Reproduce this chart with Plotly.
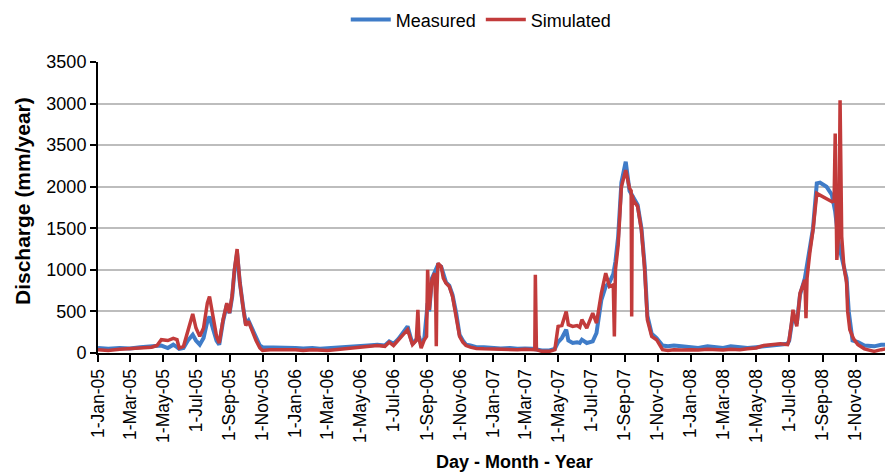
import plotly.graph_objects as go

# Daily discharge, measured vs simulated (mm/year), 2005-2008
meas_dates = [
    "2005-01-01", "2005-01-20", "2005-02-10", "2005-03-01", "2005-03-20", "2005-04-10", "2005-04-28",
    "2005-05-10", "2005-05-20", "2005-05-27", "2005-05-31", "2005-06-08", "2005-06-16", "2005-06-25",
    "2005-07-01", "2005-07-08", "2005-07-15", "2005-07-22", "2005-07-26", "2005-08-01", "2005-08-08",
    "2005-08-13", "2005-08-20", "2005-08-27", "2005-09-01", "2005-09-06", "2005-09-10", "2005-09-15",
    "2005-09-20", "2005-09-26", "2005-10-01", "2005-10-06", "2005-10-12", "2005-10-20", "2005-10-27",
    "2005-11-01", "2005-11-15", "2005-12-01", "2005-12-15",
    "2006-01-01", "2006-01-15", "2006-02-01", "2006-02-15", "2006-03-01", "2006-03-15", "2006-04-01",
    "2006-04-15", "2006-05-01", "2006-05-15", "2006-06-01", "2006-06-15", "2006-06-23", "2006-07-01",
    "2006-07-10", "2006-07-20", "2006-07-27", "2006-08-01", "2006-08-05", "2006-08-12", "2006-08-17",
    "2006-08-21", "2006-08-27", "2006-09-02", "2006-09-05", "2006-09-10", "2006-09-15", "2006-09-21",
    "2006-09-27", "2006-10-06", "2006-10-12", "2006-10-18", "2006-10-25", "2006-10-31", "2006-11-06",
    "2006-11-12", "2006-11-20", "2006-12-01", "2006-12-15",
    "2007-01-01", "2007-01-15", "2007-02-01", "2007-02-15", "2007-03-01", "2007-03-15", "2007-04-01",
    "2007-04-15", "2007-04-25", "2007-05-01", "2007-05-08", "2007-05-16", "2007-05-20", "2007-05-28",
    "2007-06-05", "2007-06-10", "2007-06-14", "2007-06-23", "2007-07-04", "2007-07-11", "2007-07-20",
    "2007-07-28", "2007-08-04", "2007-08-11", "2007-08-15", "2007-08-20", "2007-08-26", "2007-09-03",
    "2007-09-10", "2007-09-17", "2007-09-25", "2007-10-02", "2007-10-08", "2007-10-13", "2007-10-21",
    "2007-10-30", "2007-11-10", "2007-11-20", "2007-12-01", "2007-12-15",
    "2008-01-01", "2008-01-15", "2008-02-01", "2008-02-15", "2008-03-01", "2008-03-15", "2008-04-01",
    "2008-04-15", "2008-05-01", "2008-05-15", "2008-06-01", "2008-06-15", "2008-06-28", "2008-07-01",
    "2008-07-08", "2008-07-15", "2008-07-21", "2008-07-30", "2008-08-08", "2008-08-14", "2008-08-21",
    "2008-08-27", "2008-09-08", "2008-09-18", "2008-09-24", "2008-10-01", "2008-10-06", "2008-10-10",
    "2008-10-15", "2008-10-19", "2008-10-23", "2008-10-26", "2008-11-05", "2008-11-17", "2008-12-05",
    "2008-12-18", "2008-12-27",
]
meas_vals = [
    60, 50, 60, 55, 70, 80, 90,
    60, 100, 70, 50, 60, 150, 220,
    150, 100, 180, 380, 440, 300, 150,
    100, 380, 580, 480, 680, 980, 1200,
    850, 560, 350, 390, 300, 170, 90,
    70, 70, 60, 70,
    60, 55, 60, 50, 55, 60, 70,
    70, 80, 90, 100, 90, 140, 110,
    170, 270, 320, 200, 110, 160, 200,
    100, 180, 600, 500, 900, 980, 1060,
    1040, 850, 810, 700, 470, 220, 150,
    100, 90, 70, 70,
    60, 55, 60, 50, 55, 50, 30,
    30, 50, 130, 180, 280, 150, 120,
    130, 120, 160, 120, 140, 240, 640,
    800, 850, 950, 1100, 1400, 2050, 2300,
    1950, 1860, 1780, 1500, 1050, 450, 230,
    180, 90, 80, 90, 80,
    70, 60, 80, 70, 60, 80, 70,
    60, 70, 80, 90, 100, 110, 150,
    450, 350, 700, 900, 1250, 1500, 2040,
    2050, 2000, 1900, 1700, 1300, 1150, 1050,
    900, 500, 300, 150, 130, 90, 80,
    100, 100,
]

sim_dates = [
    "2005-01-01", "2005-01-20", "2005-02-10", "2005-03-01", "2005-03-20", "2005-04-10", "2005-04-20",
    "2005-04-28", "2005-05-10", "2005-05-20", "2005-05-27", "2005-05-31", "2005-06-08", "2005-06-16",
    "2005-06-25", "2005-07-01", "2005-07-08", "2005-07-15", "2005-07-22", "2005-07-26", "2005-08-01",
    "2005-08-08", "2005-08-13", "2005-08-20", "2005-08-27", "2005-09-01", "2005-09-06", "2005-09-10",
    "2005-09-15", "2005-09-20", "2005-09-26", "2005-10-01", "2005-10-06", "2005-10-12", "2005-10-20",
    "2005-10-27", "2005-11-01", "2005-11-15", "2005-12-01", "2005-12-15",
    "2006-01-01", "2006-01-15", "2006-02-01", "2006-02-15", "2006-03-01", "2006-03-15", "2006-04-01",
    "2006-04-15", "2006-05-01", "2006-05-15", "2006-06-01", "2006-06-15", "2006-06-23", "2006-07-01",
    "2006-07-10", "2006-07-20", "2006-07-27", "2006-08-01", "2006-08-05", "2006-08-12", "2006-08-15",
    "2006-08-17", "2006-08-21", "2006-08-27", "2006-08-31", "2006-09-02", "2006-09-05", "2006-09-10",
    "2006-09-15", "2006-09-17", "2006-09-18", "2006-09-19", "2006-09-21", "2006-09-27", "2006-10-01",
    "2006-10-06", "2006-10-12", "2006-10-18", "2006-10-25", "2006-10-31", "2006-11-06", "2006-11-12",
    "2006-11-20", "2006-12-01", "2006-12-15",
    "2007-01-01", "2007-01-15", "2007-02-01", "2007-02-15", "2007-03-01", "2007-03-15", "2007-03-19",
    "2007-03-20", "2007-03-22", "2007-04-01", "2007-04-15", "2007-04-25", "2007-05-01", "2007-05-08",
    "2007-05-16", "2007-05-20", "2007-05-28", "2007-06-05", "2007-06-10", "2007-06-14", "2007-06-23",
    "2007-07-04", "2007-07-11", "2007-07-20", "2007-07-28", "2007-08-04", "2007-08-11", "2007-08-13",
    "2007-08-15", "2007-08-20", "2007-08-26", "2007-09-03", "2007-09-10", "2007-09-13", "2007-09-14",
    "2007-09-15", "2007-09-17", "2007-09-25", "2007-10-02", "2007-10-08", "2007-10-13", "2007-10-21",
    "2007-10-30", "2007-11-10", "2007-11-20", "2007-12-01", "2007-12-15",
    "2008-01-01", "2008-01-15", "2008-02-01", "2008-02-15", "2008-03-01", "2008-03-15", "2008-04-01",
    "2008-04-15", "2008-05-01", "2008-05-15", "2008-06-01", "2008-06-15", "2008-06-28", "2008-07-01",
    "2008-07-05", "2008-07-08", "2008-07-12", "2008-07-15", "2008-07-21", "2008-07-30", "2008-08-01",
    "2008-08-03", "2008-08-08", "2008-08-14", "2008-08-21", "2008-08-27", "2008-09-08", "2008-09-18",
    "2008-09-22", "2008-09-24", "2008-09-27", "2008-10-01", "2008-10-03", "2008-10-06", "2008-10-10",
    "2008-10-15", "2008-10-17", "2008-10-21", "2008-10-28", "2008-11-05", "2008-11-17", "2008-12-05",
    "2008-12-18", "2008-12-27",
]
sim_vals = [
    40, 30, 45, 50, 60, 70, 90,
    160, 150, 175, 160, 60, 80, 280,
    470, 300, 200, 300, 600, 680, 450,
    200, 120, 400, 600, 480, 700, 1000,
    1250, 850, 550, 330, 380, 280, 150,
    60, 30, 40, 35, 40,
    40, 30, 40, 35, 30, 40, 50,
    60, 70, 80, 90, 80, 130, 90,
    150, 230, 280, 180, 100, 150, 520,
    180, 60, 160, 200, 1000, 520, 880,
    960, 600, 80, 700, 1080, 1040, 900,
    840, 800, 680, 450, 200, 130, 90,
    70, 55, 50,
    45, 40, 35, 40, 45, 40, 40,
    940, 40, 20, 20, 40, 320, 330,
    500, 340, 320, 330, 310, 400, 300,
    480, 360, 720, 960, 800, 820, 200,
    1000, 1300, 2000, 2200, 1980, 1950, 440,
    1900, 1840, 1760, 1480, 1000, 400, 200,
    160, 40, 30, 40, 35,
    40, 35, 45, 40, 35, 45, 40,
    50, 60, 90, 100, 110, 100, 160,
    350, 520, 400, 320, 720, 880, 420,
    900, 1200, 1480, 1920, 1900, 1860, 1820,
    1840, 2640, 1120, 1500, 3040, 1400, 1040,
    850, 500, 280, 170, 100, 50, 20,
    40, 50,
]

# Axis ticks
x_tick_dates = [
    "2005-01-01", "2005-03-01", "2005-05-01", "2005-07-01", "2005-09-01", "2005-11-01",
    "2006-01-01", "2006-03-01", "2006-05-01", "2006-07-01", "2006-09-01", "2006-11-01",
    "2007-01-01", "2007-03-01", "2007-05-01", "2007-07-01", "2007-09-01", "2007-11-01",
    "2008-01-01", "2008-03-01", "2008-05-01", "2008-07-01", "2008-09-01", "2008-11-01",
]
x_tick_labels = [
    "1-Jan-05", "1-Mar-05", "1-May-05", "1-Jul-05", "1-Sep-05", "1-Nov-05",
    "1-Jan-06", "1-Mar-06", "1-May-06", "1-Jul-06", "1-Sep-06", "1-Nov-06",
    "1-Jan-07", "1-Mar-07", "1-May-07", "1-Jul-07", "1-Sep-07", "1-Nov-07",
    "1-Jan-08", "1-Mar-08", "1-May-08", "1-Jul-08", "1-Sep-08", "1-Nov-08",
]
y_tick_vals = [0, 500, 1000, 1500, 2000, 2500, 3000, 3500]
y_tick_labels = ["0", "500", "1000", "1500", "2000", "3500", "3000", "3500"]

BLUE = "#3f7cc8"
RED = "#c23b3b"
FONT = "Liberation Sans, Arial, sans-serif"

fig = go.Figure()
fig.add_trace(go.Scatter(
    x=meas_dates, y=meas_vals, mode="lines", name="Measured",
    line=dict(color=BLUE, width=4),
))
fig.add_trace(go.Scatter(
    x=sim_dates, y=sim_vals, mode="lines", name="Simulated",
    line=dict(color=RED, width=3.5),
))

fig.update_layout(
    width=885, height=472,
    margin=dict(l=98, r=0, t=62, b=119),
    paper_bgcolor="white", plot_bgcolor="white",
    font=dict(family=FONT, size=18, color="black"),
    showlegend=True,
    legend=dict(
        orientation="h", x=0.487, xanchor="center", y=1.145, yanchor="middle",
        font=dict(size=18), itemwidth=40,
    ),
    xaxis=dict(
        type="date",
        range=["2005-01-01", "2008-12-25"],
        tickmode="array", tickvals=x_tick_dates, ticktext=x_tick_labels,
        tickangle=-90, tickfont=dict(size=17.5),
        ticks="outside", ticklen=7, tickwidth=2, tickcolor="black",
        showline=True, linecolor="black", linewidth=2,
        showgrid=False, zeroline=False,
    ),
    yaxis=dict(
        range=[0, 3500],
        tickmode="array", tickvals=y_tick_vals, ticktext=y_tick_labels,
        tickfont=dict(size=18),
        ticks="outside", ticklen=6, tickwidth=2, tickcolor="black",
        showline=True, linecolor="black", linewidth=2,
        showgrid=True, gridcolor="#bdbdbd", gridwidth=2,
        zeroline=False,
    ),
    annotations=[
        dict(
            text="<b>Day - Month - Year</b>", xref="paper", yref="paper",
            x=(514 - 98) / 787, y=-(462 - 353) / 291, xanchor="center", yanchor="middle",
            showarrow=False, font=dict(size=18),
        ),
        dict(
            text="<b>Discharge (mm/year)</b>", xref="paper", yref="paper",
            x=-(98 - 22) / 787, y=(353 - 201) / 291, xanchor="center", yanchor="middle",
            textangle=-90, showarrow=False, font=dict(size=21),
        ),
    ],
)

fig.write_html("out.html")
